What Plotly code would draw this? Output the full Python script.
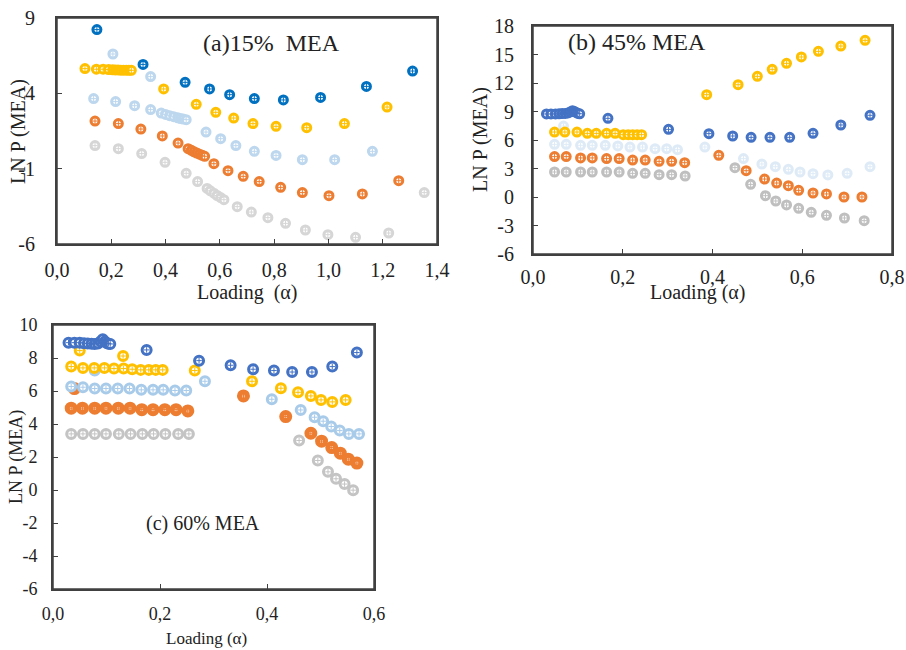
import plotly.graph_objects as go

# ---------------- Panel (a) 15% MEA ----------------
a_blue_x = [0.147, 0.317, 0.472, 0.562, 0.636, 0.727, 0.834, 0.971, 1.140, 1.310]
a_blue_y = [8.23, 5.92, 4.73, 4.29, 3.91, 3.65, 3.56, 3.73, 4.46, 5.48]
a_yellow_x = [0.103, 0.145, 0.170, 0.190, 0.205, 0.215, 0.225, 0.235, 0.245, 0.255, 0.265, 0.274,
              0.393, 0.513, 0.585, 0.651, 0.722, 0.807, 0.920, 1.059, 1.216]
a_yellow_y = [5.64, 5.60, 5.60, 5.58, 5.56, 5.55, 5.55, 5.54, 5.54, 5.54, 5.53, 5.53,
              4.29, 3.27, 2.74, 2.36, 1.99, 1.81, 1.72, 1.99, 3.09]
a_lblue_x = [0.206, 0.345, 0.135, 0.216, 0.286, 0.345, 0.384, 0.400, 0.415, 0.430, 0.445, 0.455, 0.465, 0.476,
             0.549, 0.603, 0.659, 0.727, 0.807, 0.904, 1.023, 1.162]
a_lblue_y = [6.61, 5.11, 3.65, 3.45, 3.18, 2.92, 2.69, 2.60, 2.52, 2.45, 2.38, 2.33, 2.29, 2.25,
             1.43, 0.99, 0.53, 0.15, -0.12, -0.40, -0.40, 0.15]
a_orange_x = [0.140, 0.226, 0.309, 0.388, 0.446, 0.483, 0.495, 0.505, 0.515, 0.525, 0.535, 0.544,
              0.578, 0.630, 0.686, 0.745, 0.824, 0.904, 1.002, 1.125, 1.259]
a_orange_y = [2.16, 1.99, 1.63, 1.17, 0.70, 0.33, 0.22, 0.12, 0.04, -0.04, -0.11, -0.18,
              -0.67, -1.13, -1.51, -1.86, -2.24, -2.59, -2.79, -2.68, -1.80]
a_gray_x = [0.140, 0.226, 0.312, 0.398, 0.476, 0.518, 0.553, 0.565, 0.578, 0.590, 0.603, 0.615,
            0.664, 0.716, 0.777, 0.842, 0.915, 0.998, 1.100, 1.222, 1.353]
a_gray_y = [0.53, 0.33, 0.00, -0.58, -1.31, -1.86, -2.31, -2.47, -2.63, -2.78, -2.92, -3.06,
            -3.52, -3.88, -4.25, -4.63, -5.07, -5.38, -5.56, -5.27, -2.59]

# ---------------- Panel (b) 45% MEA ----------------
b_blue_x = [0.030, 0.040, 0.050, 0.058, 0.065, 0.072, 0.078, 0.083, 0.088, 0.092, 0.096, 0.100, 0.104,
            0.167, 0.302, 0.392, 0.445, 0.486, 0.528, 0.572, 0.624, 0.686, 0.751]
b_blue_y = [8.74, 8.74, 8.74, 8.76, 8.78, 8.80, 8.85, 8.95, 9.09, 9.00, 8.90, 8.80, 8.76,
            8.28, 7.12, 6.67, 6.42, 6.28, 6.28, 6.28, 6.70, 7.58, 8.60]
b_yellow_x = [0.048, 0.071, 0.098, 0.121, 0.141, 0.164, 0.183, 0.201, 0.212, 0.222, 0.232, 0.242,
              0.387, 0.457, 0.500, 0.533, 0.565, 0.598, 0.636, 0.686, 0.740]
b_yellow_y = [6.84, 6.84, 6.84, 6.70, 6.70, 6.70, 6.70, 6.56, 6.56, 6.56, 6.56, 6.56,
              10.77, 11.82, 12.70, 13.44, 14.07, 14.74, 15.33, 15.89, 16.49]
b_lblue_x = [0.048, 0.068, 0.074, 0.106, 0.132, 0.161, 0.189, 0.216, 0.244, 0.272, 0.298, 0.322,
             0.383, 0.469, 0.510, 0.540, 0.569, 0.595, 0.624, 0.657, 0.700, 0.751]
b_lblue_y = [5.54, 7.47, 5.54, 5.44, 5.44, 5.44, 5.37, 5.26, 5.26, 5.09, 5.09, 4.98,
             5.26, 4.04, 3.47, 3.19, 2.91, 2.63, 2.46, 2.32, 2.49, 3.19]
b_orange_x = [0.048, 0.074, 0.106, 0.132, 0.164, 0.192, 0.222, 0.250, 0.281, 0.309, 0.338,
              0.414, 0.475, 0.516, 0.543, 0.569, 0.592, 0.624, 0.654, 0.693, 0.733]
b_orange_y = [4.25, 4.25, 4.11, 4.11, 4.04, 4.04, 3.89, 3.89, 3.75, 3.75, 3.61,
              4.39, 2.77, 1.89, 1.47, 1.19, 0.70, 0.42, 0.32, 0.00, 0.00]
b_gray_x = [0.048, 0.074, 0.106, 0.132, 0.164, 0.192, 0.222, 0.250, 0.281, 0.309, 0.339,
            0.450, 0.485, 0.518, 0.541, 0.565, 0.592, 0.620, 0.654, 0.694, 0.738]
b_gray_y = [2.63, 2.63, 2.63, 2.63, 2.63, 2.63, 2.49, 2.49, 2.35, 2.35, 2.21,
            3.09, 1.33, 0.14, -0.42, -0.84, -1.19, -1.61, -1.93, -2.21, -2.49]

# ---------------- Panel (c) 60% MEA ----------------
c_blue_x = [0.029, 0.040, 0.050, 0.058, 0.065, 0.072, 0.078, 0.084, 0.089, 0.093, 0.097, 0.101, 0.104, 0.107,
            0.175, 0.273, 0.332, 0.374, 0.413, 0.447, 0.484, 0.522, 0.568]
c_blue_y = [8.93, 8.93, 8.93, 8.90, 8.88, 8.86, 8.85, 8.88, 9.00, 9.13, 9.00, 8.90, 8.87, 8.85,
            8.49, 7.84, 7.56, 7.32, 7.24, 7.15, 7.15, 7.48, 8.33]
c_yellow_x = [0.034, 0.050, 0.056, 0.077, 0.096, 0.114, 0.131, 0.132, 0.148, 0.164, 0.179, 0.192, 0.205,
              0.265, 0.372, 0.426, 0.458, 0.482, 0.501, 0.522, 0.547]
c_yellow_y = [7.48, 8.45, 7.40, 7.40, 7.40, 7.36, 8.12, 7.36, 7.32, 7.28, 7.28, 7.28, 7.28,
              7.24, 6.59, 6.17, 5.92, 5.70, 5.46, 5.34, 5.46]
c_lblue_x = [0.034, 0.056, 0.078, 0.078, 0.099, 0.121, 0.143, 0.165, 0.187, 0.206, 0.228, 0.249,
             0.284, 0.409, 0.463, 0.489, 0.505, 0.520, 0.536, 0.553, 0.572]
c_lblue_y = [6.27, 6.23, 7.24, 6.15, 6.15, 6.15, 6.15, 6.07, 6.07, 6.07, 6.03, 6.03,
             6.59, 5.50, 4.85, 4.41, 4.17, 3.85, 3.60, 3.40, 3.40]
c_orange_x = [0.034, 0.040, 0.055, 0.078, 0.099, 0.122, 0.144, 0.166, 0.187, 0.209, 0.230, 0.252,
              0.356, 0.435, 0.482, 0.502, 0.521, 0.537, 0.552, 0.568]
c_orange_y = [4.96, 6.15, 4.96, 4.96, 4.96, 4.96, 4.96, 4.87, 4.87, 4.87, 4.87, 4.79,
              5.70, 4.45, 3.44, 2.96, 2.57, 2.23, 1.87, 1.63]
c_gray_x = [0.034, 0.056, 0.078, 0.099, 0.123, 0.145, 0.167, 0.188, 0.210, 0.234, 0.254,
            0.460, 0.495, 0.514, 0.529, 0.545, 0.561]
c_gray_y = [3.40, 3.40, 3.40, 3.40, 3.40, 3.40, 3.40, 3.40, 3.40, 3.40, 3.40,
            3.00, 1.79, 1.10, 0.68, 0.36, -0.01]

# tick definitions
a_xticks = [0.0, 0.2, 0.4, 0.6, 0.8, 1.0, 1.2, 1.4]
a_xtext = ["0,0", "0,2", "0,4", "0,6", "0,8", "1,0", "1,2", "1,4"]
a_yticks = [9, 4, -1, -6]
a_ytext = ["9", "4", "-1", "-6"]
b_xticks = [0.0, 0.2, 0.4, 0.6, 0.8]
b_xtext = ["0,0", "0,2", "0,4", "0,6", "0,8"]
b_yticks = [18, 15, 12, 9, 6, 3, 0, -3, -6]
b_ytext = ["18", "15", "12", "9", "6", "3", "0", "-3", "-6"]
c_xticks = [0.0, 0.2, 0.4, 0.6]
c_xtext = ["0,0", "0,2", "0,4", "0,6"]
c_yticks = [10, 8, 6, 4, 2, 0, -2, -4, -6]
c_ytext = ["10", "8", "6", "4", "2", "0", "-2", "-4", "-6"]

W, H = 906, 650
FONT = "Liberation Serif, Times New Roman, serif"
AXC = "#404040"

fig = go.Figure()


def add_series(x, y, color, xa, ya, size=8, lw=3):
    fig.add_trace(go.Scatter(
        x=x, y=y, mode="markers", xaxis=xa, yaxis=ya, showlegend=False,
        marker=dict(symbol="circle", size=size, color="white", line=dict(color=color, width=lw))))
    fig.add_trace(go.Scatter(
        x=x, y=y, mode="markers", xaxis=xa, yaxis=ya, showlegend=False, hoverinfo="skip",
        marker=dict(symbol="cross-thin", size=4, color=color, line=dict(color=color, width=1))))


# panel a
add_series(a_gray_x, a_gray_y, "#D6D6D6", "x", "y")
add_series(a_orange_x, a_orange_y, "#ED7D31", "x", "y")
add_series(a_lblue_x, a_lblue_y, "#BDD7EE", "x", "y")
add_series(a_yellow_x, a_yellow_y, "#FFC000", "x", "y")
add_series(a_blue_x, a_blue_y, "#0070C0", "x", "y")
# panel b
add_series(b_gray_x, b_gray_y, "#BFBFBF", "x2", "y2")
add_series(b_orange_x, b_orange_y, "#ED7D31", "x2", "y2")
add_series(b_lblue_x, b_lblue_y, "#DEEBF7", "x2", "y2")
add_series(b_yellow_x, b_yellow_y, "#FFC000", "x2", "y2")
add_series(b_blue_x, b_blue_y, "#4472C4", "x2", "y2")
# panel c
add_series(c_gray_x, c_gray_y, "#C4C4C4", "x3", "y3", size=9, lw=3)
add_series(c_orange_x, c_orange_y, "#ED7D31", "x3", "y3", size=8, lw=5)
add_series(c_lblue_x, c_lblue_y, "#A9CBEA", "x3", "y3", size=9, lw=3)
add_series(c_yellow_x, c_yellow_y, "#FFC000", "x3", "y3", size=9, lw=3)
add_series(c_blue_x, c_blue_y, "#4472C4", "x3", "y3", size=9, lw=3)


def px_x(p):
    return p / W


def px_y(p):
    return 1 - p / H


def axis(domain, rng, tv, tt, fs, so):
    return dict(domain=domain, range=rng, tickvals=tv, ticktext=tt, showgrid=False, zeroline=False,
                showline=True, linecolor=AXC, linewidth=2, mirror=True, ticks="inside", ticklen=5,
                tickcolor=AXC, tickwidth=1, tickfont=dict(family=FONT, size=fs, color="#222"),
                ticklabelstandoff=so, automargin=False)


fig.update_layout(
    width=W, height=H, margin=dict(l=0, r=0, t=0, b=0, pad=0),
    plot_bgcolor="white", paper_bgcolor="white",
    xaxis=axis([px_x(57), px_x(437)], [0, 1.4], a_xticks, a_xtext, 20, 7) | dict(anchor="y"),
    yaxis=axis([px_y(244), px_y(18)], [-6, 9], a_yticks, a_ytext, 20, 16) | dict(anchor="x"),
    xaxis2=axis([px_x(533), px_x(892)], [0, 0.8], b_xticks, b_xtext, 20, 4) | dict(anchor="y2"),
    yaxis2=axis([px_y(254), px_y(26)], [-6, 18], b_yticks, b_ytext, 20, 13) | dict(anchor="x2"),
    xaxis3=axis([px_x(53), px_x(374)], [0, 0.6], c_xticks, c_xtext, 18, 7) | dict(anchor="y3"),
    yaxis3=axis([px_y(589), px_y(325)], [-6, 10], c_yticks, c_ytext, 18, 10) | dict(anchor="x3"),
)

# plot frames (box around each panel)
for xa, ya in (("x", "y"), ("x2", "y2"), ("x3", "y3")):
    fig.add_shape(type="rect", xref=f"{xa} domain", yref=f"{ya} domain", x0=0, x1=1, y0=0, y1=1,
                  line=dict(color=AXC, width=1.5), fillcolor="rgba(0,0,0,0)", layer="above")

annots = [
    ("(a)15%  MEA", 271, 43, 24, 0),
    ("(b) 45% MEA", 637, 42, 24, 0),
    ("(c) 60% MEA", 203, 523, 20, 0),
    ("Loading  (α)", 247, 292, 20, 0),
    ("Loading (α)", 697, 292, 20, 0),
    ("Loading (α)", 206, 638, 17, 0),
    ("LN P (MEA)", 19, 132, 20, -90),
    ("LN P (MEA)", 480, 140, 20, -90),
    ("LN P (MEA)", 16, 457, 18, -90),
]
for txt, x, y, fs, ang in annots:
    fig.add_annotation(text=txt, x=px_x(x), y=px_y(y), xref="paper", yref="paper",
                       showarrow=False, textangle=ang, xanchor="center", yanchor="middle",
                       font=dict(family=FONT, size=fs, color="#222"))

fig.write_html("out.html", config={"displayModeBar": False},
               post_script="document.body.style.margin='0px';")
